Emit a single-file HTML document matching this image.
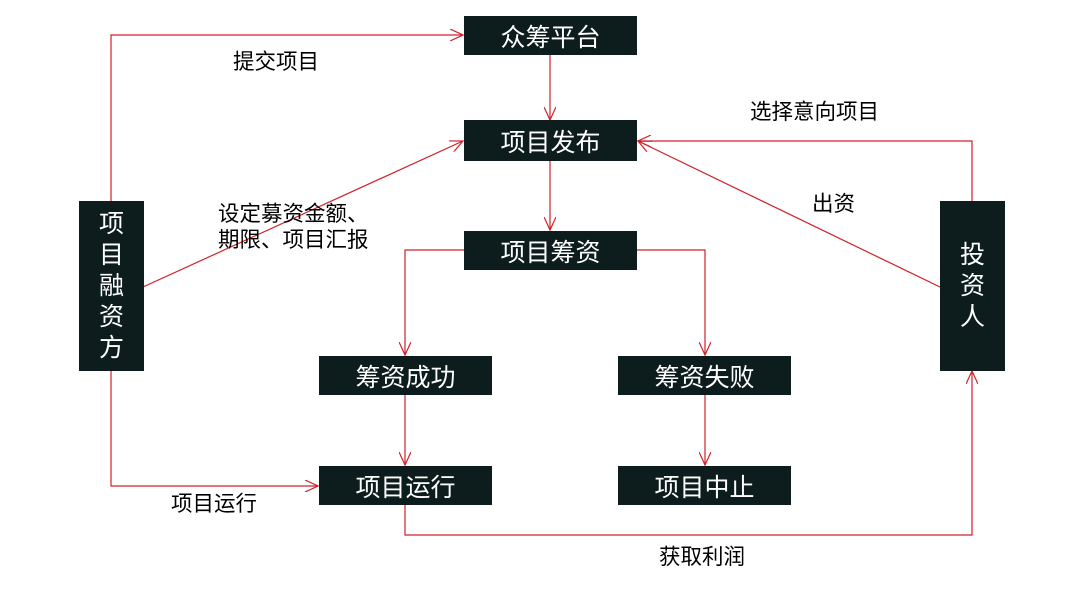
<!DOCTYPE html>
<html><head><meta charset="utf-8"><style>
html,body{margin:0;padding:0;background:#fff;}
body{width:1082px;height:592px;position:relative;overflow:hidden;font-family:"Liberation Sans","Noto Sans CJK SC",sans-serif;}
.b{position:absolute;background:#0d1c1c;color:#fff;font-size:25px;display:flex;align-items:center;justify-content:center;}
.v{flex-direction:column;line-height:31px;font-size:25px;}
.t{position:absolute;font-size:21.5px;color:#000;line-height:26px;}
svg{position:absolute;left:0;top:0;}
</style></head><body>
<svg width="1082" height="592">
<defs><marker id="a" markerWidth="14" markerHeight="12" refX="13" refY="6" orient="auto" markerUnits="userSpaceOnUse"><path d="M0,0 L13,6 L0,12" fill="none" stroke="#d0202a" stroke-width="1.2"/></marker></defs>
<g fill="none" stroke="#d0202a" stroke-width="1.2">
<polyline points="111,201 111,35 463,35" marker-end="url(#a)"/>
<line x1="550" y1="54" x2="550" y2="120" marker-end="url(#a)"/>
<line x1="143" y1="287" x2="463" y2="141" marker-end="url(#a)"/>
<line x1="550" y1="161" x2="550" y2="230" marker-end="url(#a)"/>
<polyline points="464,250 405,250 405,355" marker-end="url(#a)"/>
<polyline points="637,250 705,250 705,355" marker-end="url(#a)"/>
<line x1="405" y1="395" x2="405" y2="465" marker-end="url(#a)"/>
<line x1="705" y1="395" x2="705" y2="465" marker-end="url(#a)"/>
<polyline points="111,370 111,486 318,486" marker-end="url(#a)"/>
<polyline points="405,505 405,535 972,535 972,371" marker-end="url(#a)"/>
<polyline points="972,201 972,141 638,141" marker-end="url(#a)"/>
<line x1="940" y1="287" x2="638" y2="141" marker-end="url(#a)"/>
</g></svg>
<div class="b" style="left:464px;top:16px;width:173px;height:39px;">众筹平台</div>
<div class="b" style="left:464px;top:120px;width:173px;height:41px;">项目发布</div>
<div class="b" style="left:464px;top:231px;width:173px;height:39px;">项目筹资</div>
<div class="b" style="left:319px;top:356px;width:173px;height:39px;">筹资成功</div>
<div class="b" style="left:618px;top:356px;width:173px;height:39px;">筹资失败</div>
<div class="b" style="left:319px;top:466px;width:173px;height:39px;">项目运行</div>
<div class="b" style="left:618px;top:466px;width:173px;height:39px;">项目中止</div>
<div class="b v" style="left:79px;top:201px;width:65px;height:170px;"><span>项</span><span>目</span><span>融</span><span>资</span><span>方</span></div>
<div class="b v" style="left:940px;top:201px;width:65px;height:170px;"><span>投</span><span>资</span><span>人</span></div>
<div class="t" style="left:233px;top:49px;">提交项目</div>
<div class="t" style="left:218px;top:201px;">设定募资金额、<br>期限、项目汇报</div>
<div class="t" style="left:750px;top:99px;">选择意向项目</div>
<div class="t" style="left:812px;top:191px;">出资</div>
<div class="t" style="left:171px;top:491px;">项目运行</div>
<div class="t" style="left:659px;top:544px;">获取利润</div>
</body></html>
